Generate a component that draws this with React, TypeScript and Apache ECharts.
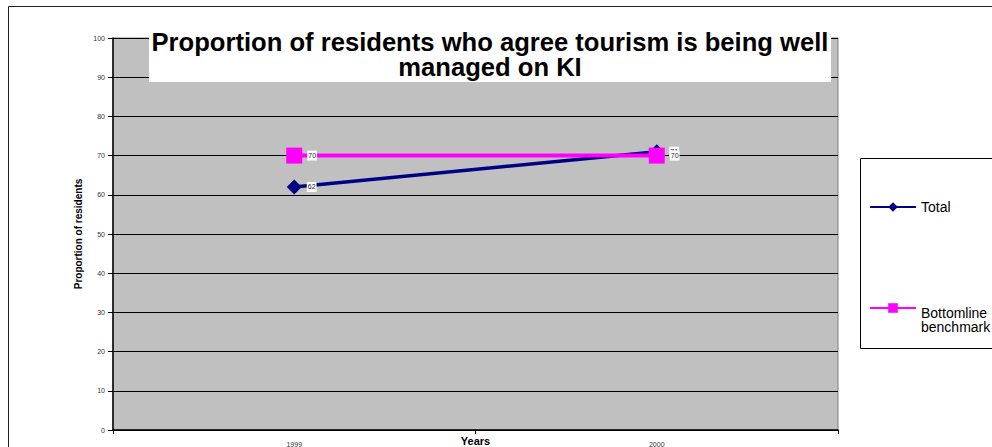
import React, { useEffect, useRef } from "react";
import * as echarts from "echarts";

const categories = ["1999", "2000"];
const totalValues = [62, 71];
const benchmarkValues = [70, 70];
const seriesNames = ["Total", "Bottomline benchmark"];
const titleText = "Proportion of residents who agree tourism is being well\nmanaged on KI";
const xAxisName = "Years";
const yAxisName = "Proportion of residents";

const FONT = "'Liberation Sans', Arial, sans-serif";

export default function App() {
  const ref = useRef<HTMLDivElement>(null);
  useEffect(() => {
    if (!ref.current) return;
    const chart = echarts.init(ref.current, null, { renderer: "svg" });
    const labelCommon = {
      show: true,
      position: "right",
      distance: 5,
      fontSize: 7,
      fontFamily: FONT,
      color: "#222",
      backgroundColor: "#ffffff",
      padding: [2, 1, 1, 1],
    };
    chart.setOption({
      animation: false,
      backgroundColor: "#ffffff",
      textStyle: { fontFamily: FONT },
      grid: {
        left: 113,
        top: 38,
        right: 154,
        bottom: 17,
        outerBoundsMode: "none",
        containLabel: false,
        show: true,
        backgroundColor: "#c0c0c0",
        borderColor: "#808080",
        borderWidth: 1,
      },
      xAxis: {
        type: "category",
        data: categories,
        boundaryGap: true,
        name: xAxisName,
        nameLocation: "middle",
        nameGap: 5,
        nameMoveOverlap: false,
        nameTextStyle: { fontSize: 11, fontWeight: "bold", color: "#000", fontFamily: FONT },
        axisLine: { show: true, lineStyle: { color: "#000", width: 1.5 } },
        axisTick: { show: true, length: 4, lineStyle: { color: "#000" } },
        axisLabel: { fontSize: 7, color: "#333", margin: 11, fontFamily: FONT },
        splitLine: { show: false },
      },
      yAxis: {
        type: "value",
        min: 0,
        max: 100,
        interval: 10,
        name: yAxisName,
        nameLocation: "middle",
        nameGap: 30,
        nameRotate: 90,
        nameMoveOverlap: false,
        nameTextStyle: { fontSize: 10, fontWeight: "bold", color: "#000", fontFamily: FONT },
        axisLine: { show: true, lineStyle: { color: "#000", width: 1.5 } },
        axisTick: { show: true, length: 5, lineStyle: { color: "#000" } },
        axisLabel: { fontSize: 7, color: "#333", margin: 8, fontFamily: FONT },
        splitLine: { show: true, lineStyle: { color: "#000", width: 1 } },
      },
      legend: [
        {
          data: [seriesNames[0]],
          orient: "vertical",
          left: 864,
          top: 195,
          itemWidth: 46,
          itemHeight: 12,
          textStyle: { fontSize: 14, color: "#000", fontFamily: FONT },
          z: 20,
        },
        {
          data: [seriesNames[1]],
          orient: "vertical",
          left: 864,
          top: 287,
          itemWidth: 46,
          itemHeight: 12,
          formatter: () => "{s| }\n{t|Bottomline}\n{t|benchmark}",
          textStyle: {
            fontSize: 14,
            color: "#000",
            fontFamily: FONT,
            rich: {
              s: { fontSize: 4, lineHeight: 24 },
              t: { fontSize: 14, lineHeight: 14, color: "#000", fontFamily: FONT },
            },
          },
          z: 20,
        },
      ],
      graphic: [
        {
          type: "rect",
          z: 0,
          silent: true,
          shape: { x: 8.5, y: 6.5, width: 1000, height: 500 },
          style: { fill: "none", stroke: "#222", lineWidth: 1 },
        },
        {
          type: "rect",
          z: 10,
          silent: true,
          shape: { x: 860.5, y: 158.5, width: 200, height: 190 },
          style: { fill: "#ffffff", stroke: "#000", lineWidth: 1 },
        },
        {
          type: "rect",
          z: 10,
          silent: true,
          shape: { x: 149, y: 26, width: 682, height: 56 },
          style: { fill: "#ffffff" },
        },
        {
          type: "text",
          z: 11,
          silent: true,
          x: 490,
          y: 29,
          style: {
            text: titleText,
            textAlign: "center",
            textVerticalAlign: "top",
            font: `bold 25.6px ${FONT}`,
            lineHeight: 25,
            fill: "#000",
          },
        },
      ],
      series: [
        {
          name: seriesNames[0],
          type: "line",
          data: totalValues,
          symbol: "diamond",
          symbolSize: 15,
          itemStyle: { color: "#000080" },
          lineStyle: { color: "#000080", width: 3.5 },
          label: labelCommon,
          z: 2,
        },
        {
          name: seriesNames[1],
          type: "line",
          data: benchmarkValues,
          symbol: "rect",
          symbolSize: 16,
          itemStyle: { color: "#ff00ff" },
          lineStyle: { color: "#ff00ff", width: 4 },
          label: labelCommon,
          z: 3,
        },
      ],
    });
    return () => chart.dispose();
  }, []);
  return (
    <div
      ref={ref}
      style={{ position: "fixed", left: 0, top: 0, width: 992, height: 447 }}
    />
  );
}
